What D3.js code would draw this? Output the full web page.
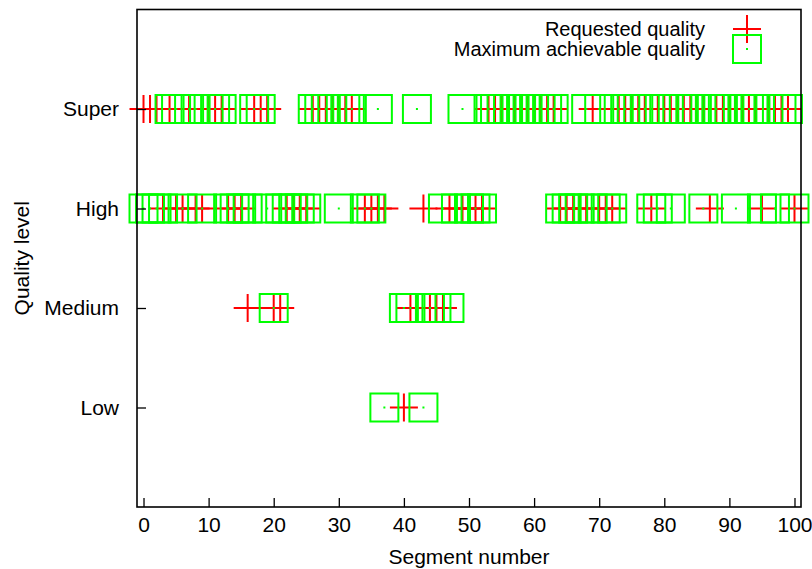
<!DOCTYPE html>
<html>
<head>
<meta charset="utf-8">
<script src="https://cdn.jsdelivr.net/npm/d3@7"></script>
<style>
    body { margin: 0; background: #ffffff; }
    svg { display: block; }
    text { font-family: "Liberation Sans", Arial, Helvetica, sans-serif; fill: #000; }
</style>
</head>
<body>
<div id="chart"></div>
<script>
// Quality levels from bottom to top (level 1 = Low ... 4 = Super)
const qualityLevels = ["Low", "Medium", "High", "Super"];
const levelTicks = [1, 2, 3, 4];
const segmentTicks = [0, 10, 20, 30, 40, 50, 60, 70, 80, 90, 100];

const seriesNames = ["Requested quality", "Maximum achievable quality"];

// One entry per segment 0..100, null where no point is drawn
const requestedQuality = [
    4, 4, 4, 3, 4, 3, 3, 4, 3, 3,
    4, 4, 4, 3, 3, 3, 2, 4, 4, 4,
    2, 2, 3, 3, 3, 3, 4, 4, 4, 4,
    4, 4, 4, null, 3, 3, 3, 3, null, null,
    1, 2, 2, 3, 2, 2, 2, 3, 3, 3,
    3, 3, 3, 4, 4, 4, 4, 4, 4, 4,
    4, 4, 4, 4, 3, 3, 3, 3, 3, 4,
    3, 3, 3, 4, 4, 4, 4, 4, 3, 4,
    4, 4, 4, 4, 4, 4, 4, 3, 4, 4,
    4, 4, 4, 4, 4, 3, 4, 4, 4, 4,
    3
];

const maxAchievableQuality = [
    3, 3, 3, 3, 4, 4, 3, 4, 4, 3,
    4, 4, 4, 3, 3, 3, 3, 4, 4, 3,
    2, 3, 3, 3, 3, 3, 4, 4, 4, 4,
    3, 4, 4, null, 3, 3, 4, 1, null, null,
    2, 2, 4, 1, 2, 2, 3, 2, 3, 4,
    3, 3, 3, 4, 4, 4, 4, 4, 4, 4,
    4, 4, 4, 4, 3, 3, 3, 3, 4, 3,
    4, 3, 3, 4, 4, 4, 4, 4, 3, 3,
    4, 3, 4, 4, 4, 4, 3, 4, 4, 4,
    4, 3, 4, 4, 4, 3, 4, 3, 4, 4,
    3
];

const width = 812, height = 569;
const margin = {top: 9.5, right: 11, bottom: 62, left: 137};
const red = "#ff0000", green = "#00ff00";
const half = 14;

const svg = d3.select("#chart").append("svg")
    .attr("width", width)
    .attr("height", height);

const x = d3.scaleLinear()
    .domain([-1, 101])
    .range([margin.left, width - margin.right]);

const y = d3.scaleLinear()
    .domain([0, 5])
    .range([height - margin.bottom, margin.top]);

function toPoints(levels) {
    return levels
        .map((lvl, i) => ({seg: i, lvl: lvl}))
        .filter(d => d.lvl !== null);
}

// Requested quality: red plus marks
svg.append("g").selectAll("path")
    .data(toPoints(requestedQuality))
    .enter().append("path")
    .attr("transform", d => "translate(" + x(d.seg) + "," + y(d.lvl) + ")")
    .attr("d", "M" + (-half) + ",0H" + half + "M0," + (-half) + "V" + half)
    .style("stroke", red)
    .style("stroke-width", 2)
    .style("fill", "none");

// Maximum achievable quality: green boxes with a centre dot
const maxPoints = toPoints(maxAchievableQuality);
svg.append("g").selectAll("rect")
    .data(maxPoints)
    .enter().append("rect")
    .attr("x", d => x(d.seg) - half)
    .attr("y", d => y(d.lvl) - half)
    .attr("width", half * 2)
    .attr("height", half * 2)
    .style("stroke", green)
    .style("stroke-width", 2)
    .style("fill", "none");

svg.append("g").selectAll("rect")
    .data(maxPoints)
    .enter().append("rect")
    .attr("x", d => x(d.seg) - 1)
    .attr("y", d => y(d.lvl) - 1)
    .attr("width", 2)
    .attr("height", 2)
    .style("fill", green);

// Axes with inward ticks
const xAxis = svg.append("g")
    .attr("transform", "translate(0," + (height - margin.bottom) + ")")
    .call(d3.axisBottom(x).tickValues(segmentTicks).tickSizeInner(-9).tickSizeOuter(0).tickPadding(10));

const yAxis = svg.append("g")
    .attr("transform", "translate(" + margin.left + ",0)")
    .call(d3.axisLeft(y).tickValues(levelTicks)
        .tickFormat(d => qualityLevels[d - 1])
        .tickSizeInner(-9).tickSizeOuter(0).tickPadding(18));

[xAxis, yAxis].forEach(a => {
    a.select(".domain").remove();
    a.selectAll("line").style("stroke", "#000").style("stroke-width", 1.3);
    a.selectAll("text").style("font-size", "21px").style("fill", "#000")
        .style("font-family", "'Liberation Sans', Arial, sans-serif");
});

// Plot frame
svg.append("rect")
    .attr("x", x(-1))
    .attr("y", y(5))
    .attr("width", x(101) - x(-1))
    .attr("height", y(0) - y(5))
    .style("fill", "none")
    .style("stroke", "#000")
    .style("stroke-width", 1.6);

// Axis titles
svg.append("text")
    .attr("x", (x(-1) + x(101)) / 2)
    .attr("y", 564)
    .attr("text-anchor", "middle")
    .style("font-size", "21px")
    .text("Segment number");

svg.append("text")
    .attr("transform", "translate(29," + ((y(0) + y(5)) / 2) + ") rotate(-90)")
    .attr("text-anchor", "middle")
    .style("font-size", "21px")
    .text("Quality level");

// Legend
const legendX = 705, sampleX = 747;
const legendRows = [29, 49];

svg.append("text")
    .attr("x", legendX).attr("y", legendRows[0] + 7)
    .attr("text-anchor", "end")
    .style("font-size", "20px")
    .text(seriesNames[0]);

svg.append("text")
    .attr("x", legendX).attr("y", legendRows[1] + 7)
    .attr("text-anchor", "end")
    .style("font-size", "20px")
    .text(seriesNames[1]);

svg.append("path")
    .attr("transform", "translate(" + sampleX + "," + legendRows[0] + ")")
    .attr("d", "M" + (-half) + ",0H" + half + "M0," + (-half) + "V" + half)
    .style("stroke", red)
    .style("stroke-width", 2)
    .style("fill", "none");

svg.append("rect")
    .attr("x", sampleX - half).attr("y", legendRows[1] - half)
    .attr("width", half * 2).attr("height", half * 2)
    .style("stroke", green)
    .style("stroke-width", 2)
    .style("fill", "none");

svg.append("rect")
    .attr("x", sampleX - 1).attr("y", legendRows[1] - 1)
    .attr("width", 2).attr("height", 2)
    .style("fill", green);
</script>
</body>
</html>
